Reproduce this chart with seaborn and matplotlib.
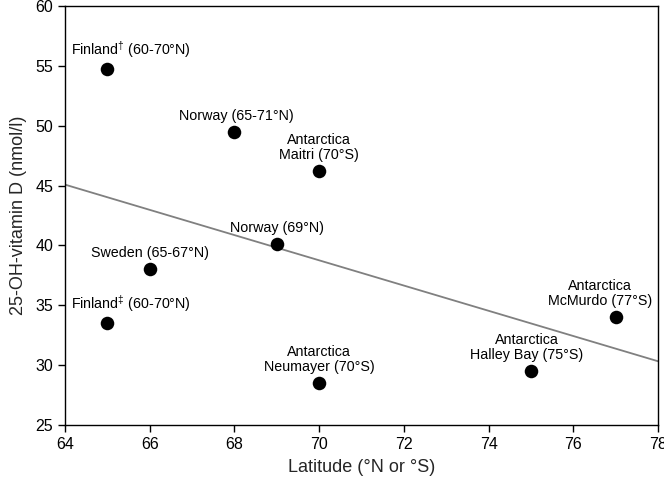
import matplotlib
matplotlib.use("Agg")
import matplotlib.pyplot as plt
import seaborn as sns
import pandas as pd

# ---- data ----
latitude = [65, 68, 70, 69, 66, 65, 77, 75, 70]
vitamin_d = [54.7, 49.5, 46.2, 40.1, 38.0, 33.5, 34.0, 29.5, 28.5]
labels = [
    "Finland$^{\\dagger}$ (60-70°N)",
    "Norway (65-71°N)",
    "Antarctica\nMaitri (70°S)",
    "Norway (69°N)",
    "Sweden (65-67°N)",
    "Finland$^{\\ddagger}$ (60-70°N)",
    "Antarctica\nMcMurdo (77°S)",
    "Antarctica\nHalley Bay (75°S)",
    "Antarctica\nNeumayer (70°S)",
]
x_ticks = [64, 66, 68, 70, 72, 74, 76, 78]
y_ticks = [25, 30, 35, 40, 45, 50, 55, 60]

# label offsets in pixels (dx, dy) relative to each point
label_offsets = [(24, 9), (2, 9), (0, 9), (0, 9), (0, 9), (24, 9), (-16, 9), (-4, 9), (0, 9)]

df = pd.DataFrame({"lat": latitude, "vitd": vitamin_d})

sns.set_style("ticks")
plt.rcParams["font.family"] = ["Liberation Sans", "DejaVu Sans"]
plt.rcParams["mathtext.fontset"] = "custom"
plt.rcParams["mathtext.rm"] = "Liberation Sans"
plt.rcParams["mathtext.it"] = "Liberation Sans:italic"

fig = plt.figure(figsize=(6.64, 5.01), dpi=100)
ax = fig.add_axes([0.098, 0.152, 0.893, 0.836])
ax.set_xlim(64, 78)
ax.set_ylim(25, 60)

sns.regplot(data=df, x="lat", y="vitd", ax=ax, ci=None, truncate=False,
            scatter=False, line_kws={"color": "#808080", "lw": 1.3})
sns.scatterplot(data=df, x="lat", y="vitd", ax=ax, color="black", s=95,
                edgecolor="black", linewidth=0, zorder=3)

for xv, yv, lab, (dx, dy) in zip(latitude, vitamin_d, labels, label_offsets):
    ax.annotate(lab, (xv, yv), xytext=(dx, dy), textcoords="offset pixels",
                ha="center", va="bottom", fontsize=10.3, linespacing=1.12,
                color="black")

ax.set_xlim(64, 78)
ax.set_ylim(25, 60)
ax.set_xticks(x_ticks)
ax.set_yticks(y_ticks)
ax.tick_params(axis="both", direction="out", length=5, width=1, labelsize=11.5,
               colors="black", top=False, right=False)
for sp in ax.spines.values():
    sp.set_visible(True)
    sp.set_color("black")
    sp.set_linewidth(1)
ax.set_xlabel("Latitude (°N or °S)", fontsize=13, labelpad=5)
ax.set_ylabel("25-OH-vitamin D (nmol/l)", fontsize=13, labelpad=6)

fig.savefig("out.png", dpi=100)
